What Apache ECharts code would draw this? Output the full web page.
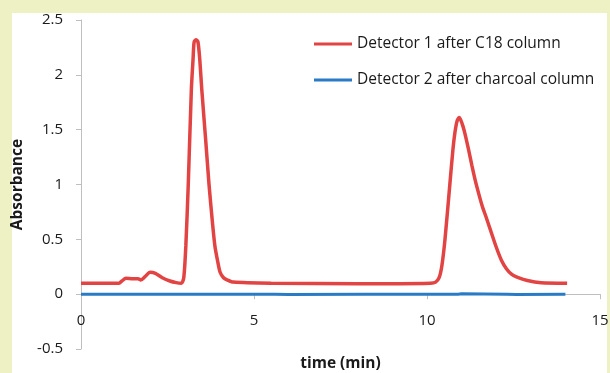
<!DOCTYPE html>
<html lang="en" style="height: 100%">
<head>
  <meta charset="utf-8">
</head>
<body style="height: 100%; margin: 0">
  <div id="container" style="width:610px;height:373px"></div>

  <script type="text/javascript" src="https://fastly.jsdelivr.net/npm/echarts@6.0.0/dist/echarts.min.js"></script>

  <script type="text/javascript">
    // time (min) and absorbance
    var det1Time = [0, 1.1, 1.18, 1.3, 1.5, 1.65, 1.73, 1.85, 2.0, 2.15, 2.35, 2.57, 2.75, 2.9, 2.97,
      3.03, 3.1, 3.19, 3.24, 3.27, 3.33, 3.38, 3.43, 3.49, 3.6, 3.7, 3.8, 3.87, 3.95, 4.02, 4.12, 4.22, 4.4,
      5.5, 8.0, 10.1, 10.25, 10.35, 10.43, 10.52, 10.66, 10.75, 10.81, 10.87, 10.93, 10.98, 11.04, 11.1, 11.2, 11.3,
      11.4, 11.5, 11.6, 11.7, 11.85, 12.0, 12.15, 12.3, 12.45, 12.6, 12.9, 13.3, 14.05];
    var det1Abs = [0.1, 0.1, 0.12, 0.145, 0.14, 0.14, 0.13, 0.16, 0.2, 0.19, 0.15, 0.12, 0.105, 0.1, 0.15,
      0.44, 1.0, 1.87, 2.15, 2.3, 2.32, 2.3, 2.15, 1.87, 1.42, 1.0, 0.65, 0.44, 0.3, 0.2, 0.15, 0.13, 0.11,
      0.1, 0.095, 0.1, 0.11, 0.15, 0.26, 0.5, 1.0, 1.32, 1.48, 1.58, 1.61, 1.585, 1.53, 1.46, 1.32, 1.17,
      1.03, 0.91, 0.8, 0.71, 0.57, 0.43, 0.31, 0.23, 0.18, 0.155, 0.125, 0.105, 0.1];
    var det2Time = [0, 1.3, 1.32, 2.0, 2.05, 3.0, 3.4, 3.45, 5.6, 6.0, 8.2, 10.9, 11.0, 12.3, 12.6, 14.0];
    var det2Abs = [0, 0, 0.004, 0, -0.003, 0, 0, 0.003, 0, -0.003, 0, 0, 0.004, 0, -0.003, 0];
    var seriesNames = ['Detector 1 after C18 column', 'Detector 2 after charcoal column'];
    var xTicks = [0, 15, 5];      // min, max, interval
    var yTicks = [-0.5, 2.5, 0.5];

    function pairs(xs, ys) {
      return xs.map(function (x, i) { return [x, ys[i]]; });
    }

    var dom = document.getElementById('container');
    var myChart = echarts.init(dom, null, { renderer: 'canvas' });

    var font = '"Open Sans", "Noto Sans", sans-serif';
    var gridTop = 20, gridBottom = 24;
    var gridH = 373 - gridTop - gridBottom;
    // the time axis sits on absorbance 0, as in the original
    var xOffset = -gridH * (0 - yTicks[0]) / (yTicks[1] - yTicks[0]);

    var option = {
      backgroundColor: '#eef1c4',
      animation: false,
      graphic: [{
        type: 'rect',
        z: -10,
        shape: { x: 12, y: 13, width: 595, height: 360 },
        style: { fill: '#ffffff' }
      }],
      grid: { left: 81, right: 10, top: gridTop, bottom: gridBottom, containLabel: false, outerBoundsMode: 'none' },
      legend: {
        orient: 'vertical',
        left: 314,
        top: 35,
        padding: 0,
        itemGap: 18,
        itemWidth: 38,
        itemHeight: 3,
        icon: 'rect',
        textStyle: { fontFamily: font, fontSize: 15.5, color: '#1a1a1a', lineHeight: 18 },
        data: seriesNames
      },
      xAxis: {
        type: 'value',
        min: xTicks[0], max: xTicks[1], interval: xTicks[2],
        name: 'time (min)',
        nameLocation: 'middle',
        nameGap: 61,
        nameTextStyle: { fontFamily: font, fontSize: 15.5, fontWeight: 'bold', color: '#1a1a1a' },
        offset: xOffset,
        axisLine: { onZero: false, lineStyle: { color: '#bfbfbf', width: 1 } },
        axisTick: { length: 5, lineStyle: { color: '#bfbfbf' } },
        axisLabel: { fontFamily: font, fontSize: 15, color: '#1a1a1a', margin: 19 },
        splitLine: { show: false }
      },
      yAxis: {
        type: 'value',
        min: yTicks[0], max: yTicks[1], interval: yTicks[2],
        name: 'Absorbance',
        nameLocation: 'middle',
        nameRotate: 90,
        nameGap: 55,
        nameTextStyle: { fontFamily: font, fontSize: 15.5, fontWeight: 'bold', color: '#1a1a1a' },
        axisLine: { show: true, onZero: true, lineStyle: { color: '#bfbfbf', width: 1 } },
        axisTick: { show: true, length: 5, lineStyle: { color: '#bfbfbf' } },
        axisLabel: { fontFamily: font, fontSize: 15, color: '#1a1a1a', margin: 18 },
        splitLine: { show: false }
      },
      series: [
        {
          name: seriesNames[0],
          type: 'line',
          data: pairs(det1Time, det1Abs),
          showSymbol: false,
          smooth: 0.25,
          color: '#e24343',
          lineStyle: { width: 3.5 },
          z: 3
        },
        {
          name: seriesNames[1],
          type: 'line',
          data: pairs(det2Time, det2Abs),
          showSymbol: false,
          color: '#2a7bc6',
          lineStyle: { width: 3 },
          z: 2
        }
      ]
    };

    myChart.setOption(option);
    window.addEventListener('resize', myChart.resize);
  </script>
</body>
</html>
